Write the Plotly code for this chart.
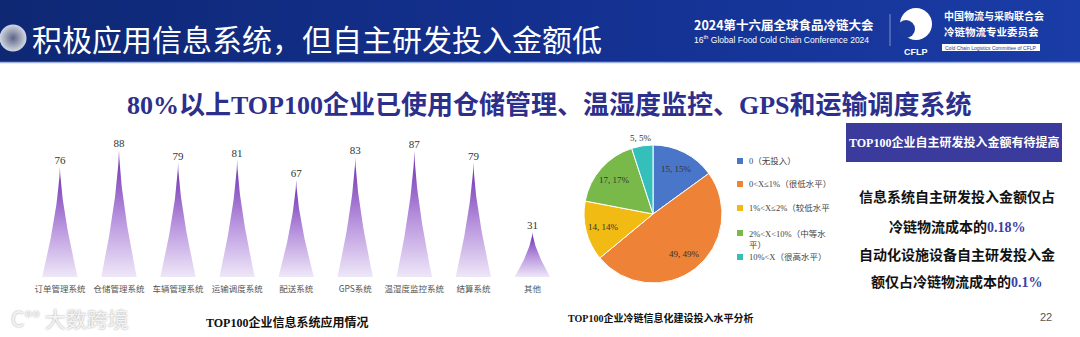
import numpy as np
import plotly.graph_objects as go

W, H = 1080, 337

# ---- data ----
systems = ["订单管理系统", "仓储管理系统", "车辆管理系统", "运输调度系统", "配送系统",
           "GPS系统", "温湿度监控系统", "结算系统", "其他"]
usage = [76, 88, 79, 81, 67, 83, 87, 79, 31]

invest_levels = ["0（无投入）", "0<X≤1%（很低水平）", "1%<X≤2%（较低水平",
                 "2%<X<10%（中等水<br>平）", "10%<X（很高水平）"]
invest_counts = [15, 49, 14, 17, 5]
invest_colors = ["#4a76c9", "#ee8236", "#f2bb14", "#79b94a", "#35bfbb"]


def X(p):
    return p / W


def Y(p):
    return 1 - p / H


fig = go.Figure()

# ---- header band (own hidden axes in pixel units) ----
fig.add_trace(go.Scatter(
    x=[0, W, W, 0, 0], y=[0, 0, 62, 62, 0], mode="lines", fill="toself",
    line=dict(width=0), hoverinfo="skip", showlegend=False,
    fillgradient=dict(type="horizontal",
                      colorscale=[[0, "#0e2874"], [0.5, "#13308f"], [1, "#1a3ca6"]]),
    xaxis="x3", yaxis="y3"))
fig.add_trace(go.Scatter(
    x=[13], y=[38], mode="markers", hoverinfo="skip", showlegend=False,
    marker=dict(size=27, color="#d4d8e4",
                gradient=dict(type="radial", color="#5c6486"), line=dict(width=0)),
    xaxis="x3", yaxis="y3"))

# ---- spike bars: concave triangles whose height is the usage value ----
half_base = 0.3
t = np.linspace(0, 1, 40)
for i, v in enumerate(usage):
    ys = v * t
    hw = half_base * (1 - t) ** 1.5
    xs = np.concatenate([i - hw, (i + hw)[::-1]])
    yy = np.concatenate([ys, ys[::-1]])
    fig.add_trace(go.Scatter(
        x=xs, y=yy, mode="lines", fill="toself", line=dict(width=0),
        hoverinfo="skip", showlegend=False,
        fillgradient=dict(type="vertical",
                          colorscale=[[0, "#eee7f8"], [0.45, "#b995de"], [1, "#6d2bb0"]])))

fig.add_trace(go.Scatter(
    x=list(range(len(usage))), y=usage, mode="text", text=[str(v) for v in usage],
    textposition="top center", showlegend=False, hoverinfo="skip",
    textfont=dict(family="Liberation Serif", size=11, color="#333333")))

# ---- pie ----
pie_cx, pie_cy, pie_r = 653, 214, 69
fig.add_trace(go.Pie(
    values=invest_counts, labels=invest_levels, sort=False, direction="clockwise",
    rotation=0, textinfo="none", showlegend=False, hoverinfo="skip",
    marker=dict(colors=invest_colors, line=dict(color="white", width=1)),
    domain=dict(x=[X(pie_cx - pie_r), X(pie_cx + pie_r)],
                y=[Y(pie_cy + pie_r), Y(pie_cy - pie_r)])))

annotations = []
shapes = []

# slice labels placed at each slice's mid-angle
total = sum(invest_counts)
cum = 0
for k, v in enumerate(invest_counts):
    mid = (cum + v / 2) / total * 2 * np.pi
    cum += v
    rr = pie_r * (1.12 if v / total < 0.08 else 0.74)
    lx = pie_cx + rr * np.sin(mid)
    ly = pie_cy - rr * np.cos(mid)
    annotations.append(dict(
        x=X(lx), y=Y(ly), text=f"{v}, {round(100 * v / total)}%",
        font=dict(family="Liberation Serif", size=9, color="#333333")))

# pie legend
legend_y = [161, 184, 208, 233, 257]
for k, name in enumerate(invest_levels):
    yy = legend_y[k]
    shapes.append(dict(type="rect", xref="paper", yref="paper",
                       x0=X(737), x1=X(743), y0=Y(yy + 3), y1=Y(yy - 3),
                       fillcolor=invest_colors[k], line=dict(width=0)))
    two = "<br>" in name
    annotations.append(dict(
        x=X(747), y=Y(yy - 6 if two else yy), xanchor="left",
        yanchor="top" if two else "middle", align="left", text=name,
        font=dict(family="Liberation Serif, Noto Sans CJK SC", size=8.5, color="#444444")))

# ---- header texts ----
annotations += [
    dict(x=X(30), y=Y(38), xanchor="left", text="积极应用信息系统，但自主研发投入金额低",
         font=dict(family="Noto Sans CJK SC", size=30, color="white")),
    dict(x=X(692), y=Y(24), xanchor="left", text="<b>2024第十六届全球食品冷链大会</b>",
         font=dict(family="Noto Sans CJK SC", size=12.5, color="white")),
    dict(x=X(692), y=Y(39), xanchor="left",
         text="16<sup>th</sup> Global Food Cold Chain Conference 2024",
         font=dict(family="Liberation Sans", size=8.5, color="white")),
    dict(x=X(916), y=Y(52), text="<b>CFLP</b>",
         font=dict(family="Liberation Sans", size=9, color="white")),
    dict(x=X(942), y=Y(16), xanchor="left", text="<b>中国物流与采购联合会</b>",
         font=dict(family="Noto Sans CJK SC", size=10, color="white")),
    dict(x=X(942), y=Y(32), xanchor="left", text="<b>冷链物流专业委员会</b>",
         font=dict(family="Noto Sans CJK SC", size=10.5, color="white")),
    dict(x=X(991), y=Y(47.5), text="Cold Chain Logistics Committee of CFLP",
         font=dict(family="Liberation Sans", size=5, color="#1a3a9a")),
]
shapes += [
    dict(type="line", xref="paper", yref="paper", x0=0, x1=1, y0=Y(62.5), y1=Y(62.5),
         line=dict(color="#9fb2e2", width=1.5)),
    dict(type="line", xref="paper", yref="paper", x0=X(890), x1=X(890), y0=Y(14), y1=Y(46),
         line=dict(color="rgba(255,255,255,0.45)", width=1)),
    dict(type="circle", xref="paper", yref="paper", x0=X(900), x1=X(932), y0=Y(40), y1=Y(8),
         fillcolor="white", line=dict(width=0)),
    dict(type="circle", xref="paper", yref="paper", x0=X(897), x1=X(915), y0=Y(38), y1=Y(20),
         fillcolor="#1a3a9e", line=dict(width=0)),
    dict(type="rect", xref="paper", yref="paper", x0=X(942), x1=X(1040), y0=Y(51), y1=Y(44),
         fillcolor="white", line=dict(width=0)),
]

# ---- body texts ----
annotations += [
    dict(x=X(549), y=Y(105),
         text="<b>80%以上TOP100企业已使用仓储管理、温湿度监控、GPS和运输调度系统</b>",
         font=dict(family="Liberation Serif, Noto Sans CJK SC", size=26, color="#2c2f8c")),
    dict(x=X(287), y=Y(322), text="<b>TOP100企业信息系统应用情况</b>",
         font=dict(family="Liberation Serif, Noto Sans CJK SC", size=12, color="#111111")),
    dict(x=X(660), y=Y(318), text="<b>TOP100企业冷链信息化建设投入水平分析</b>",
         font=dict(family="Liberation Serif, Noto Sans CJK SC", size=10, color="#111111")),
    dict(x=X(1046), y=Y(317), text="22",
         font=dict(family="Liberation Sans", size=11, color="#555555")),
    dict(x=X(954), y=Y(142), text="<b>TOP100企业自主研发投入金额有待提高</b>",
         font=dict(family="Liberation Serif, Noto Sans CJK SC", size=12, color="white")),
    dict(x=X(70), y=Y(318), text="C°° 大数跨境",
         font=dict(family="Noto Sans CJK SC", size=21, color="#f4f4f4",
                   shadow="0px 0px 2px #9a9a9a")),
]
right_lines = [
    (196, "信息系统自主研发投入金额仅占"),
    (226, "冷链物流成本的<span style='font-family:Liberation Serif;color:#3b3fa5'>0.18%</span>"),
    (254, "自动化设施设备自主研发投入金"),
    (281, "额仅占冷链物流成本的<span style='font-family:Liberation Serif;color:#3b3fa5'>0.1%</span>"),
]
for yy, txt in right_lines:
    annotations.append(dict(x=X(957), y=Y(yy), text=f"<b>{txt}</b>",
                            font=dict(family="Noto Sans CJK SC", size=14, color="#111111")))
shapes.append(dict(type="rect", xref="paper", yref="paper", x0=X(846), x1=X(1062),
                   y0=Y(162), y1=Y(123), fillcolor="#3a3b9c", line=dict(width=0), layer="below"))

for a in annotations:
    a.setdefault("xref", "paper")
    a.setdefault("yref", "paper")
    a.setdefault("xanchor", "center")
    a.setdefault("yanchor", "middle")
    a.setdefault("showarrow", False)

n = len(systems)
fig.update_layout(
    width=W, height=H, margin=dict(l=0, r=0, t=0, b=0),
    paper_bgcolor="white", plot_bgcolor="rgba(0,0,0,0)",
    xaxis=dict(domain=[X(30.4), X(562)], range=[-0.5, n - 0.5],
               tickmode="array", tickvals=list(range(n)), ticktext=systems,
               tickfont=dict(family="Noto Sans CJK SC", size=8.5, color="#555555"),
               showgrid=False, zeroline=False, showline=False, ticks="",
               ticklabelstandoff=5, fixedrange=True),
    yaxis=dict(domain=[Y(277), Y(132)], range=[0, 100], visible=False, fixedrange=True),
    xaxis3=dict(domain=[0, 1], range=[0, W], visible=False, anchor="y3"),
    yaxis3=dict(domain=[Y(62), 1], range=[62, 0], visible=False, anchor="x3"),
    annotations=annotations, shapes=shapes,
)

fig.write_html("out.html")
